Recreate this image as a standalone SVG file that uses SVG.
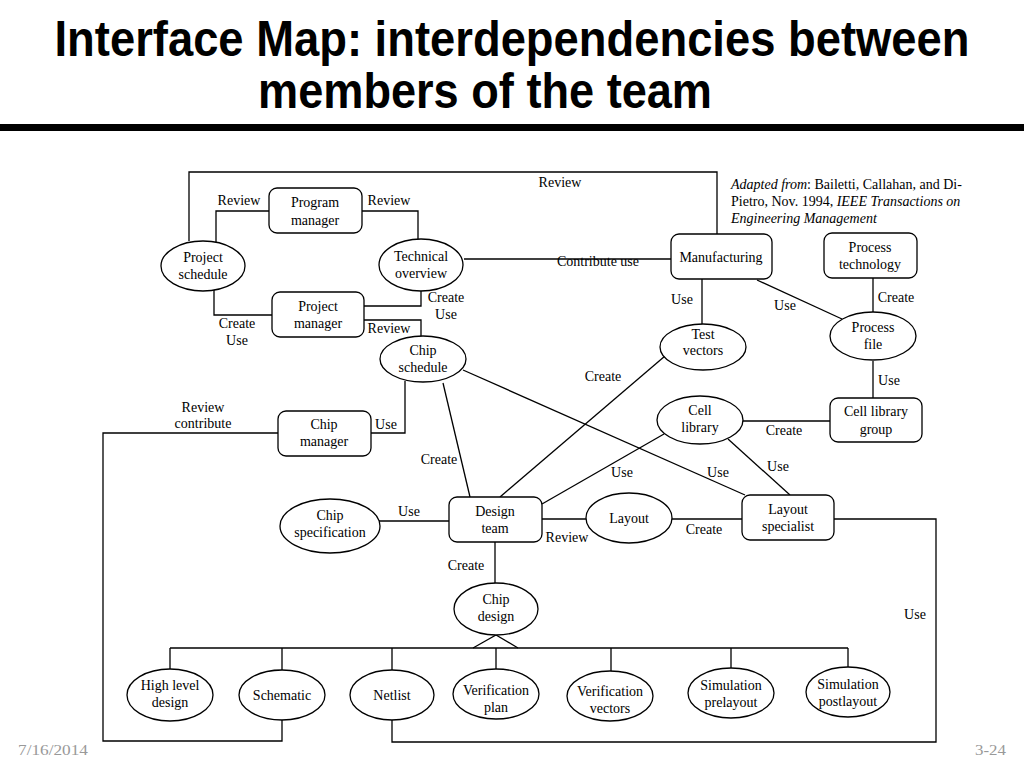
<svg xmlns="http://www.w3.org/2000/svg" width="1024" height="768" viewBox="0 0 1024 768">
<style>
.t{font-family:"Liberation Serif","Times New Roman",serif;font-size:14px;fill:#000;text-anchor:middle}
.n rect,.n ellipse{fill:#fff;stroke:#000;stroke-width:1.3}
.c{fill:none;stroke:#000;stroke-width:1.3}
.title{font-family:"Liberation Sans",Arial,sans-serif;font-weight:bold;font-size:40px;fill:#000;text-anchor:middle}
.foot{font-family:"Liberation Serif",serif;font-size:15px;fill:#999}
.cite{font-family:"Liberation Serif","Times New Roman",serif;font-size:14px;fill:#000}
</style>
<rect width="1024" height="768" fill="#fff"/>
<g id="title">
<g transform="translate(512,56) scale(1,1.25)"><text class="title" x="0" y="0" textLength="915" lengthAdjust="spacingAndGlyphs">Interface Map: interdependencies between</text></g>
<g transform="translate(485,108) scale(1,1.25)"><text class="title" x="0" y="0" textLength="454" lengthAdjust="spacingAndGlyphs">members of the team</text></g>
</g>
<rect x="0" y="124" width="1024" height="7" fill="#000"/>

<g id="connectors">
<path class="c" d="M189,241 V172 H717 V234"/>
<path class="c" d="M216,242 V211 H269"/>
<path class="c" d="M362,211 H418 V239"/>
<path class="c" d="M214,289 V315 H272"/>
<path class="c" d="M364,306 H421 V291"/>
<path class="c" d="M364,320 H421 V336"/>
<path class="c" d="M464,259 H671"/>
<path class="c" d="M702,279 V325"/>
<path class="c" d="M757,280 L842,319"/>
<path class="c" d="M873,278 V312"/>
<path class="c" d="M873,361 V398"/>
<path class="c" d="M742,421 H830"/>
<path class="c" d="M664,434 L542,504"/>
<path class="c" d="M728,439 L790,495"/>
<path class="c" d="M463,370 L745,495"/>
<path class="c" d="M665,356 L500,497"/>
<path class="c" d="M443,383 L470,497"/>
<path class="c" d="M405,381 V433 H371"/>
<path class="c" d="M278,433 H103 V741 H282 V720"/>
<path class="c" d="M379,521 H449"/>
<path class="c" d="M542,519 H587"/>
<path class="c" d="M672,519 H742"/>
<path class="c" d="M834,519 H936 V742 H392 V720"/>
<path class="c" d="M495,542 V583"/>
<path class="c" d="M473,648 L496,635 L518,648"/>
<path class="c" d="M170,648 H848"/>
<path class="c" d="M170,648 V669 M282,648 V670 M392,648 V670 M496,648 V670 M611,648 V672 M731,648 V669 M848,648 V667"/>
</g>

<g id="edge-labels">
<text class="t" x="560" y="187">Review</text>
<text class="t" x="239" y="205">Review</text>
<text class="t" x="389" y="205">Review</text>
<text class="t" x="237" y="328">Create</text>
<text class="t" x="237" y="345">Use</text>
<text class="t" x="446" y="302">Create</text>
<text class="t" x="446" y="319">Use</text>
<text class="t" x="389" y="333">Review</text>
<text class="t" x="598" y="266">Contribute use</text>
<text class="t" x="682" y="304">Use</text>
<text class="t" x="785" y="310">Use</text>
<text class="t" x="896" y="302">Create</text>
<text class="t" x="889" y="385">Use</text>
<text class="t" x="603" y="381">Create</text>
<text class="t" x="784" y="435">Create</text>
<text class="t" x="203" y="412">Review</text>
<text class="t" x="203" y="428">contribute</text>
<text class="t" x="386" y="429">Use</text>
<text class="t" x="439" y="464">Create</text>
<text class="t" x="622" y="477">Use</text>
<text class="t" x="718" y="477">Use</text>
<text class="t" x="778" y="471">Use</text>
<text class="t" x="409" y="516">Use</text>
<text class="t" x="567" y="542">Review</text>
<text class="t" x="704" y="534">Create</text>
<text class="t" x="466" y="570">Create</text>
<text class="t" x="915" y="619">Use</text>
</g>

<g id="program-manager" class="n"><rect x="269" y="188" width="93" height="45" rx="8"/><text class="t" x="315" y="207">Program</text><text class="t" x="315" y="225">manager</text></g>
<g id="project-schedule" class="n"><ellipse cx="203" cy="266" rx="42" ry="25"/><text class="t" x="203" y="262">Project</text><text class="t" x="203" y="279">schedule</text></g>
<g id="technical-overview" class="n"><ellipse cx="421" cy="265" rx="42" ry="26"/><text class="t" x="421" y="261">Technical</text><text class="t" x="421" y="278">overview</text></g>
<g id="project-manager" class="n"><rect x="272" y="292" width="92" height="45" rx="8"/><text class="t" x="318" y="311">Project</text><text class="t" x="318" y="328">manager</text></g>
<g id="chip-schedule" class="n"><ellipse cx="423" cy="359" rx="43" ry="23"/><text class="t" x="423" y="355">Chip</text><text class="t" x="423" y="372">schedule</text></g>
<g id="manufacturing" class="n"><rect x="671" y="234" width="101" height="45" rx="8"/><text class="t" x="721" y="262">Manufacturing</text></g>
<g id="process-technology" class="n"><rect x="824" y="233" width="93" height="45" rx="8"/><text class="t" x="870" y="252">Process</text><text class="t" x="870" y="269">technology</text></g>
<g id="test-vectors" class="n"><ellipse cx="703" cy="347" rx="43" ry="23"/><text class="t" x="703" y="339">Test</text><text class="t" x="703" y="355">vectors</text></g>
<g id="process-file" class="n"><ellipse cx="873" cy="336" rx="43" ry="24"/><text class="t" x="873" y="332">Process</text><text class="t" x="873" y="349">file</text></g>
<g id="cell-library-group" class="n"><rect x="830" y="398" width="92" height="44" rx="8"/><text class="t" x="876" y="416">Cell library</text><text class="t" x="876" y="434">group</text></g>
<g id="cell-library" class="n"><ellipse cx="700" cy="420" rx="43" ry="24"/><text class="t" x="700" y="415">Cell</text><text class="t" x="700" y="432">library</text></g>
<g id="chip-manager" class="n"><rect x="278" y="411" width="93" height="45" rx="8"/><text class="t" x="324" y="429">Chip</text><text class="t" x="324" y="446">manager</text></g>
<g id="chip-specification" class="n"><ellipse cx="330" cy="526" rx="50" ry="27"/><text class="t" x="330" y="520">Chip</text><text class="t" x="330" y="537">specification</text></g>
<g id="design-team" class="n"><rect x="449" y="497" width="93" height="45" rx="8"/><text class="t" x="495" y="516">Design</text><text class="t" x="495" y="533">team</text></g>
<g id="layout" class="n"><ellipse cx="629" cy="518" rx="43" ry="25"/><text class="t" x="629" y="523">Layout</text></g>
<g id="layout-specialist" class="n"><rect x="742" y="495" width="92" height="45" rx="8"/><text class="t" x="788" y="514">Layout</text><text class="t" x="788" y="531">specialist</text></g>
<g id="chip-design" class="n"><ellipse cx="496" cy="609" rx="42" ry="26"/><text class="t" x="496" y="604">Chip</text><text class="t" x="496" y="621">design</text></g>
<g id="high-level-design" class="n"><ellipse cx="170" cy="695" rx="43" ry="26"/><text class="t" x="170" y="690">High level</text><text class="t" x="170" y="707">design</text></g>
<g id="schematic" class="n"><ellipse cx="282" cy="695" rx="43" ry="25"/><text class="t" x="282" y="700">Schematic</text></g>
<g id="netlist" class="n"><ellipse cx="392" cy="695" rx="42" ry="25"/><text class="t" x="392" y="700">Netlist</text></g>
<g id="verification-plan" class="n"><ellipse cx="496" cy="694" rx="43" ry="25"/><text class="t" x="496" y="695">Verification</text><text class="t" x="496" y="712">plan</text></g>
<g id="verification-vectors" class="n"><ellipse cx="610" cy="696" rx="43" ry="25"/><text class="t" x="610" y="696">Verification</text><text class="t" x="610" y="713">vectors</text></g>
<g id="simulation-prelayout" class="n"><ellipse cx="731" cy="693" rx="43" ry="25"/><text class="t" x="731" y="690">Simulation</text><text class="t" x="731" y="707">prelayout</text></g>
<g id="simulation-postlayout" class="n"><ellipse cx="848" cy="692" rx="42" ry="25"/><text class="t" x="848" y="689">Simulation</text><text class="t" x="848" y="706">postlayout</text></g>

<g id="citation">
<text class="cite" x="731" y="189"><tspan font-style="italic">Adapted from</tspan>: Bailetti, Callahan, and Di-</text>
<text class="cite" x="731" y="206">Pietro, Nov. 1994, <tspan font-style="italic">IEEE Transactions on</tspan></text>
<text class="cite" x="731" y="223" font-style="italic">Engineering Management</text>
</g>
<text class="foot" x="18" y="755" textLength="70" lengthAdjust="spacingAndGlyphs">7/16/2014</text>
<text class="foot" x="975" y="755" textLength="31" lengthAdjust="spacingAndGlyphs">3-24</text>
</svg>
